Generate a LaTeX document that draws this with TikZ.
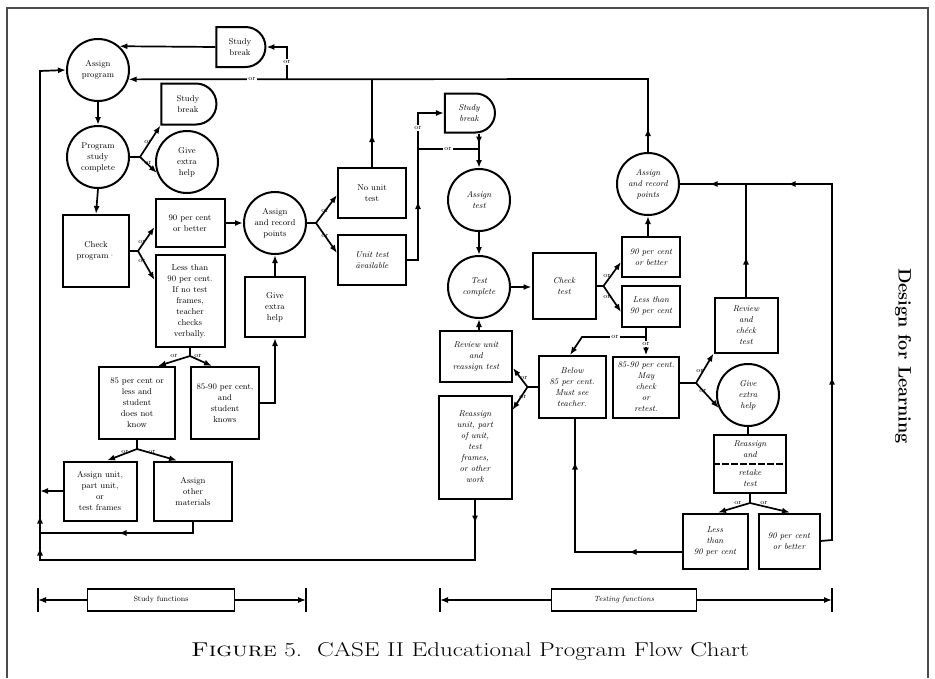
\documentclass[tikz,border=0pt]{standalone}
\usepackage{graphicx}
\usetikzlibrary{arrows.meta,shapes.misc,decorations.markings}

\newcommand{\arrtip}{\arrow{Latex[length=8pt,width=6pt]}}

\tikzset{
  base/.style={draw, line width=2pt, align=center, inner sep=1pt,
    font=\fontsize{8.5}{11}\selectfont},
  circ/.style={base, circle, minimum size=62pt},
  blk/.style={base, rectangle},
  brk/.style={base, rounded rectangle, rounded rectangle west arc=none},
  it/.style={font=\fontsize{8.5}{11}\selectfont\itshape},
  orlbl/.style={font=\fontsize{7}{7}\selectfont, inner sep=1pt},
  orline/.style={orlbl, fill=white},
  arr/.style={-{Latex[length=8pt,width=6pt]}},
  tipmarks/.style={postaction={decorate}, decoration={markings, #1}},
}

\begin{document}
\begin{tikzpicture}[x=1pt, y=-1pt, line width=1.7pt]
  \useasboundingbox (0,0) rectangle (935,678);

  % page frame
  \draw[line width=1.5pt, gray!60!black] (7,678) -- (7,8) -- (928,8) -- (928,678);

  % study side
  \node[circ] (prog) at (98,70) {Assign\\program};
  \node[brk, minimum width=51pt, minimum height=40pt] (brk1) at (240,47) {Study\\break};
  \node[circ] (done) at (98,157) {Program\\study\\complete};
  \node[brk, minimum width=57pt, minimum height=41pt] (brk2) at (188,104) {Study\\break};
  \node[circ] (help1) at (187,162) {Give\\extra\\help};
  \node[blk, minimum width=66pt, minimum height=72pt] (chk) at (96,251) {Check\\program·};
  \node[blk, minimum width=69pt, minimum height=48pt] (pass1) at (190,223) {90 per cent\\or better};
  \node[blk, minimum width=69pt, minimum height=92pt] (fail1) at (190,301)
    {Less than\\90 per cent.\\If no test\\frames,\\teacher\\checks\\verbally.};
  \node[circ] (pts1) at (275,223) {Assign\\and record\\points};
  \node[blk, minimum width=60pt, minimum height=60pt] (help2) at (275,307) {Give\\extra\\help};
  \node[blk, minimum width=76pt, minimum height=72pt] (low1) at (137,403)
    {85 per cent or\\less and\\student\\does not\\know};
  \node[blk, minimum width=68pt, minimum height=72pt] (mid1) at (225,403)
    {85-90 per cent,\\and\\student\\knows};
  \node[blk, minimum width=73pt, minimum height=59pt] (unit1) at (100,491)
    {Assign unit,\\part unit,\\or\\test frames};
  \node[blk, minimum width=78pt, minimum height=59pt] (other) at (193,491) {Assign\\other\\materials};
  \node[blk, minimum width=68pt, minimum height=50pt] (nounit) at (372,193) {No unit\\test};
  \node[blk, it, minimum width=68pt, minimum height=50pt] (unitav) at (372,260) {Unit test\\\={a}vailable};

  % testing side
  \node[brk, it, minimum width=52pt, minimum height=39pt] (brk3) at (469,113) {Study\\break};
  \node[circ, it] (tst) at (479,200) {Assign\\test};
  \node[circ, it] (tcomp) at (479,287) {Test\\complete};
  \node[blk, it, minimum width=63pt, minimum height=66pt] (chkt) at (564,286) {Check\\test};
  \node[blk, it, minimum width=58pt, minimum height=40pt] (pass2) at (651,257) {90 per cent\\or better};
  \node[blk, it, minimum width=58pt, minimum height=41pt] (fail2) at (651,306) {Less than\\90 per cent};
  \node[circ, it] (pts2) at (648,184) {Assign\\and record\\points};
  \node[blk, it, minimum width=72pt, minimum height=51pt] (rev1) at (476,356) {Review unit\\and\\reassign test};
  \node[blk, it, minimum width=73pt, minimum height=103pt] (reasg) at (475,447)
    {Reassign\\unit, part\\of unit,\\test\\frames,\\or other\\work};
  \node[blk, it, minimum width=67pt, minimum height=62pt] (low2) at (572,387)
    {Below\\85 per cent.\\Must see\\teacher.};
  \node[blk, it, minimum width=66pt, minimum height=61pt] (mid2) at (646,387)
    {85-90 per cent.\\May\\check\\or\\retest.};
  \node[blk, it, minimum width=63pt, minimum height=55pt] (revchk) at (746,325) {Review\\and\\ch\'eck\\test};
  \node[circ, it] (help3) at (748,395) {Give\\extra\\help};
  \node[blk, it, minimum width=72pt, minimum height=58pt] (retake) at (750,464) {Reassign\\and\\[7pt]retake\\test};
  \draw[line width=2pt, dash pattern=on 7pt off 2pt] (retake.west) -- (retake.east);
  \node[blk, it, minimum width=65pt, minimum height=55pt] (fail3) at (715,541) {Less\\than\\90 per cent};
  \node[blk, it, minimum width=61pt, minimum height=55pt] (pass3) at (789,541) {90 per cent\\or better};

  % return lines at the top
  \coordinate (top) at (648,79);
  \coordinate (brkj) at (287,79);
  \coordinate (brkc) at (287,47);
  \draw[arr, tipmarks={mark=at position 24pt with {\arrtip}}] (pts2.north) -- (top) -- (prog.-17);
  \node[orline] at (252,79) {or};
  \draw[arr] (brkj) -- (brkc) -- (brk1.east);
  \node[orline] at (287,62) {or};
  \draw[arr] (brk1.west) -- (prog.48);

  % return line at the left
  \coordinate (bb) at (475,560);
  \coordinate (bl) at (40,560);
  \coordinate (tl) at (40,71);
  \draw[arr, tipmarks={mark=at position 24pt with {\arrtip}, mark=at position 508pt with {\arrtip},
      mark=at position 540pt with {\arrtip}}]
    (reasg.south) -- (bb) -- (bl) -- (tl) -- (prog.west);
  \coordinate (ob) at (193,533);
  \coordinate (obl) at (40,533);
  \draw[tipmarks={mark=at position 86pt with {\arrtip}}] (other.south) -- (ob) -- (obl);
  \draw[arr] (unit1.west) -- (unit1.west -| bl);

  % study flow
  \draw[arr] (prog.south) -- (done.north);
  \draw (done.east) -- ++(10,0) coordinate (f1);
  \draw[arr] (f1) -- (brk2.south west);
  \draw[arr] (f1) -- (help1.200);
  \node[orlbl] at (148,142) {or};
  \node[orlbl] at (148,163) {or};
  \draw[arr] (done.south) -- (chk.north);
  \draw (chk.east) -- ++(8,0) coordinate (f2);
  \draw[arr] (f2) -- ([yshift=-4pt]pass1.west);
  \draw[arr] (f2) -- ([yshift=21pt]fail1.west);
  \node[orlbl] at (142,242) {or};
  \node[orlbl] at (142,261) {or};
  \draw[arr] (pass1) -- (pts1);
  \draw[arr] (help2.north) -- (pts1.south);
  \draw[arr] (mid1.east) -- (mid1.east -| help2) -- (help2.south);
  \draw (fail1.south) -- ++(0,8) coordinate (f3);
  \draw[arr] (f3) -- ([xshift=21pt]low1.north);
  \draw[arr] (f3) -- ([xshift=-13pt]mid1.north);
  \node[orlbl] at (174,356) {or};
  \node[orlbl] at (198,356) {or};
  \draw (low1.south) -- ++(0,9) coordinate (f4);
  \draw[arr] (f4) -- ([xshift=7pt]unit1.north);
  \draw[arr] (f4) -- ([xshift=-16pt]other.north);
  \node[orlbl] at (125,452) {or};
  \node[orlbl] at (152,452) {or};
  \draw (pts1.east) -- ++(9,0) coordinate (f5);
  \draw[arr] (f5) -- ([yshift=-2pt]nounit.west);
  \draw[arr] (f5) -- ([yshift=7pt]unitav.west);
  \node[orlbl] at (325,211) {or};
  \node[orlbl] at (325,236) {or};
  \draw[tipmarks={mark=at position 33pt with {\arrtip}}] (nounit.north) -- (nounit.north |- top);

  % testing flow
  \coordinate (ua) at (418,260);
  \coordinate (ub) at (418,113);
  \draw[arr, tipmarks={mark=at position 70pt with {\arrtip}}] (unitav.east) -- (ua) -- (ub) -- (brk3.west);
  \node[orline] at (418,128) {or};
  \coordinate (oj) at (418,149);
  \draw (oj) -- (oj -| tst);
  \node[orline] at (448,149) {or};
  \draw[arr, tipmarks={mark=at position 11pt with {\arrtip}}] (brk3.south -| tst) -- (tst.north);
  \draw[arr] (tst) -- (tcomp);
  \draw[arr] (tcomp.east) -- (tcomp.east -| chkt.west);
  \draw (chkt.east) -- ++(7,0) coordinate (f6);
  \draw[arr] (f6) -- ([yshift=-5pt]pass2.west);
  \draw[arr] (f6) -- ([yshift=-6pt]fail2.west);
  \node[orlbl] at (607,276) {or};
  \node[orlbl] at (607,297) {or};
  \draw[arr] (pts2 |- pass2.north) -- (pts2.south);
  \coordinate (f7) at (646,337);
  \coordinate (f7l) at (582,337);
  \draw (f7 |- fail2.south) -- (f7);
  \draw[arr] (f7) -- (mid2.north);
  \draw[arr] (f7) -- (f7l) -- ([xshift=-2pt]low2.north);
  \node[orline] at (615,337) {or};
  \node[orline] at (646,344) {or};
  \draw (low2.west) -- ++(-10,0) coordinate (f8);
  \draw[arr] (f8) -- ([yshift=-12pt]rev1.east);
  \draw[arr] (f8) -- ([yshift=37pt]reasg.east);
  \node[orlbl] at (524,378) {or};
  \node[orlbl] at (523,397) {or};
  \draw[arr] (tcomp |- rev1.north) -- (tcomp.south);
  \coordinate (lb) at (575,552);
  \draw[tipmarks={mark=at position 53pt with {\arrtip}, mark=at position 197pt with {\arrtip}}]
    ([yshift=-11pt]fail3.west) -- (lb) -- (lb |- low2.south);
  \draw ([yshift=4pt]mid2.east) -- ++(16,0) coordinate (f9);
  \draw[arr] (f9) -- (revchk.south west);
  \draw[arr] (f9) -- (help3.204);
  \node[orlbl] at (700,371) {or};
  \node[orlbl] at (703,391) {or};
  \draw (help3.south) -- (help3.south |- retake.north);
  \draw (retake.south) -- ++(0,9) coordinate (f10);
  \draw[arr] (f10) -- ([xshift=3pt]fail3.north);
  \draw[arr] (f10) -- ([xshift=1pt]pass3.north);
  \node[orlbl] at (738,503) {or};
  \node[orlbl] at (764,503) {or};
  \coordinate (rb) at (832,540);
  \coordinate (rt) at (832,184);
  \draw[tipmarks={mark=at position 175pt with {\arrtip}, mark=at position 412pt with {\arrtip},
      mark=at position 490pt with {\arrtip}}]
    (pass3.east) -- (rb) -- (rt) -- (pts2.east);
  \draw[tipmarks={mark=at position 40pt with {\arrtip}}] (revchk.north) -- (revchk.north |- rt);

  % function brackets
  \node[blk, line width=1.2pt, font=\fontsize{7.5}{9}\selectfont, minimum width=147pt, minimum height=22pt]
    (sfun) at (161,600) {Study functions};
  \coordinate (sfl) at (38,600);
  \coordinate (sfr) at (306,600);
  \draw[arr, line width=1.2pt] (sfun.west) -- (sfl);
  \draw[arr, line width=1.2pt] (sfun.east) -- (sfr);
  \draw[line width=1.2pt] ([yshift=12pt]sfl) -- ([yshift=-12pt]sfl);
  \draw[line width=1.2pt] ([yshift=12pt]sfr) -- ([yshift=-12pt]sfr);
  \node[blk, line width=1.2pt, font=\fontsize{7.5}{9}\selectfont\itshape, minimum width=145pt, minimum height=22pt]
    (tfun) at (624,600) {Testing functions};
  \coordinate (tfl) at (440,600);
  \coordinate (tfr) at (832,600);
  \draw[arr, line width=1.2pt] (tfun.west) -- (tfl);
  \draw[arr, line width=1.2pt] (tfun.east) -- (tfr);
  \draw[line width=1.2pt] ([yshift=12pt]tfl) -- ([yshift=-12pt]tfl);
  \draw[line width=1.2pt] ([yshift=12pt]tfr) -- ([yshift=-12pt]tfr);

  % caption and running head
  \node[font=\fontsize{20}{24}\selectfont] (cap) at (470,651)
    {\scalebox{1.25}[1]{\textsc{Figure} 5.\hspace{0.6em}CASE II Educational Program Flow Chart}};
  \node[rotate=-90, font=\fontsize{18}{21}\selectfont\bfseries] (side) at (903,356) {Design for Learning};
\end{tikzpicture}
\end{document}
